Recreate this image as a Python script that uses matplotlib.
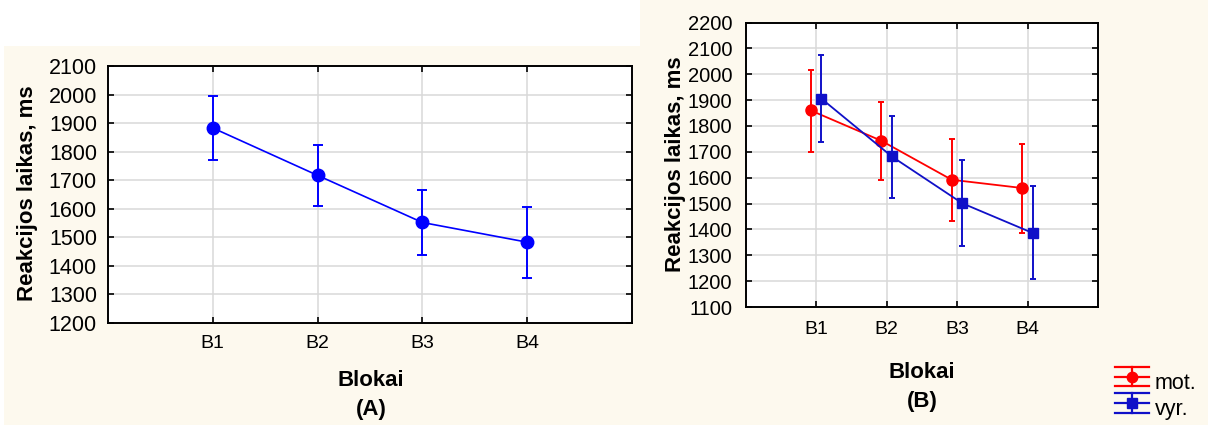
#!/usr/bin/python
# -*- coding: UTF-8 -*-
"""Reakcijos laikas pagal blokus: (A) visi tiriamieji, (B) pagal lyti."""

import matplotlib
matplotlib.use('Agg')
import matplotlib.pyplot as plt
from matplotlib.lines import Line2D
from matplotlib.patches import Rectangle
import numpy as np

plt.rcParams['font.family'] = ['Liberation Sans', 'DejaVu Sans']

blokai = ['B1', 'B2', 'B3', 'B4']

# (A) visi tiriamieji
vid_a = [1883, 1717, 1552, 1483]
apat_a = [1771, 1609, 1439, 1356]
virs_a = [1996, 1823, 1665, 1606]

# (B) moterys
vid_mot = [1860, 1743, 1592, 1560]
apat_mot = [1698, 1590, 1433, 1386]
virs_mot = [2017, 1893, 1748, 1729]

# (B) vyrai
vid_vyr = [1906, 1682, 1501, 1386]
apat_vyr = [1739, 1522, 1336, 1207]
virs_vyr = [2073, 1840, 1669, 1567]

FON = '#fdf9ee'
GRID = '#d9d9d9'
MELYNA = '#0000ff'
RAUDONA = '#ff0000'
TAMSIAI_MELYNA = '#1010c8'

W, H = 1208, 425


def paklaida(vid, apat, virs):
    vid = np.array(vid)
    return np.vstack([vid - np.array(apat), np.array(virs) - vid])


def paruosti_asis(ax, ymin, ymax, ysz, xsz, xpad, ypad):
    ax.set_xlim(0, len(blokai) + 1)
    ax.set_ylim(ymin, ymax)
    ax.set_xticks(np.arange(1, len(blokai) + 1))
    ax.set_xticklabels(blokai)
    ax.set_yticks(np.arange(ymin, ymax + 1, 100))
    ax.grid(True, color=GRID, linewidth=1.1)
    ax.set_axisbelow(True)
    ax.tick_params(direction='in', top=True, right=True, length=4,
                   width=1.2, color='black')
    ax.tick_params(axis='y', labelsize=ysz, pad=ypad)
    ax.tick_params(axis='x', labelsize=xsz, pad=xpad)
    for s in ax.spines.values():
        s.set_linewidth(1.4)
        s.set_color('black')
    ax.set_facecolor('white')


class KlaidosZenklas:
    """Legendos zenklas: trys horizontalios linijos, vertikali atkarpa ir zymeklis."""

    def __init__(self, spalva, zymeklis, dydis):
        self.spalva = spalva
        self.zymeklis = zymeklis
        self.dydis = dydis

    def legend_artist(self, legend, orig_handle, fontsize, handlebox):
        x0, y0 = handlebox.xdescent, handlebox.ydescent
        w, h = handlebox.width, handlebox.height
        tr = handlebox.get_transform()
        for yy in (y0, y0 + h / 2, y0 + h):
            handlebox.add_artist(Line2D([x0, x0 + w], [yy, yy], color=self.spalva,
                                        linewidth=1.6, transform=tr))
        handlebox.add_artist(Line2D([x0 + w / 2, x0 + w / 2], [y0, y0 + h],
                                    color=self.spalva, linewidth=1.6, transform=tr))
        m = Line2D([x0 + w / 2], [y0 + h / 2], marker=self.zymeklis, color=self.spalva,
                   markersize=self.dydis, linestyle='none', transform=tr)
        handlebox.add_artist(m)
        return m


fig = plt.figure(figsize=(W / 100, H / 100), dpi=100)
fig.patch.set_facecolor(FON)
# baltas kampas virs kairiojo grafiko
fig.patches.append(Rectangle((0, 1 - 46 / H), 640 / W, 46 / H, transform=fig.transFigure,
                             facecolor='white', edgecolor='none', zorder=-1))
fig.patches.append(Rectangle((0, 0), 4 / W, 1, transform=fig.transFigure,
                             facecolor='white', edgecolor='none', zorder=-1))

x = np.arange(1, len(blokai) + 1)

# (A)
ax1 = fig.add_axes([108 / W, 1 - 323 / H, 524 / W, 257 / H])
paruosti_asis(ax1, 1200, 2100, 15.5, 14, 8.5, 8)
ax1.errorbar(x, vid_a, yerr=paklaida(vid_a, apat_a, virs_a), color=MELYNA,
             marker='o', markersize=9, linewidth=1.2, elinewidth=1.4,
             capsize=3.9, capthick=1.4)
fig.text(28 / W, 1 - 193 / H, 'Reakcijos laikas, ms', rotation=90, ha='center',
         va='center', fontsize=16, fontweight='bold')
fig.text(371 / W, 1 - 381 / H, 'Blokai', ha='center', va='center', fontsize=16,
         fontweight='bold')
fig.text(371 / W, 1 - 410 / H, '(A)', ha='center', va='center', fontsize=16,
         fontweight='bold')

# (B)
ax2 = fig.add_axes([745.5 / W, 1 - 307 / H, 352.5 / W, 284.5 / H])
paruosti_asis(ax2, 1100, 2200, 14.5, 14, 10, 9.5)
poslinkis = 0.075
ax2.errorbar(x - poslinkis, vid_mot, yerr=paklaida(vid_mot, apat_mot, virs_mot),
             color=RAUDONA, marker='o', markersize=8, linewidth=1.3, elinewidth=1.4,
             capsize=2.5, capthick=1.4, zorder=3)
ax2.errorbar(x + poslinkis, vid_vyr, yerr=paklaida(vid_vyr, apat_vyr, virs_vyr),
             color=TAMSIAI_MELYNA, marker='s', markersize=7.5, linewidth=1.3,
             elinewidth=1.4, capsize=2.5, capthick=1.4, zorder=4)
fig.text(675 / W, 1 - 164 / H, 'Reakcijos laikas, ms', rotation=90, ha='center',
         va='center', fontsize=16, fontweight='bold')
fig.text(922 / W, 1 - 372 / H, 'Blokai', ha='center', va='center', fontsize=16,
         fontweight='bold')
fig.text(922 / W, 1 - 402 / H, '(B)', ha='center', va='center', fontsize=16,
         fontweight='bold')

h_mot = Line2D([], [], color=RAUDONA)
h_vyr = Line2D([], [], color=TAMSIAI_MELYNA)
fig.legend([h_mot, h_vyr], ['mot.', 'vyr.'], loc='lower left',
           bbox_to_anchor=(1115 / W, 1 - 420 / H), bbox_transform=fig.transFigure,
           frameon=False, fontsize=15.5, borderpad=0, borderaxespad=0,
           handlelength=1.6, handleheight=1.0, handletextpad=0.25, labelspacing=0.2,
           handler_map={h_mot: KlaidosZenklas(RAUDONA, 'o', 7.5),
                        h_vyr: KlaidosZenklas(TAMSIAI_MELYNA, 's', 7)})

fig.savefig('out.png', dpi=100, facecolor=fig.get_facecolor())
